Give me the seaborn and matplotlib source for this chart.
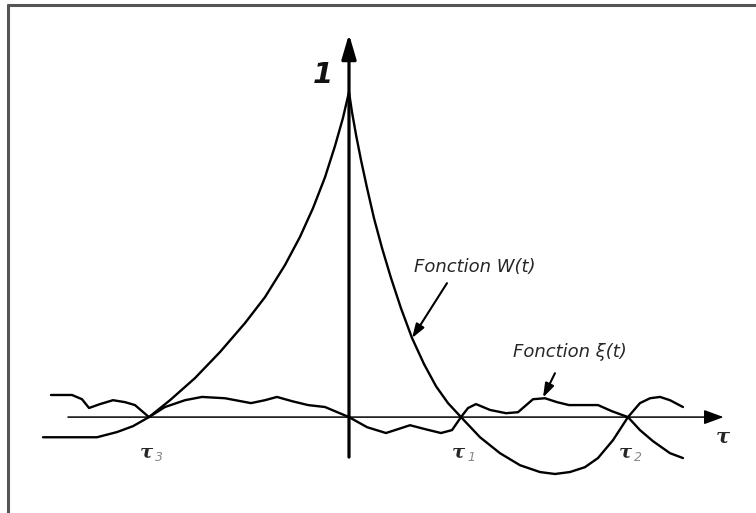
import matplotlib
matplotlib.use("Agg")
import matplotlib.pyplot as plt
import pandas as pd
import seaborn as sns

# Autocorrelation W(t) of the signal (normalised so W(0) = 1)
w_tau = [-2.732, -2.491, -2.250, -2.071, -1.929, -1.786, -1.598, -1.375, -1.152,
         -0.929, -0.750, -0.571, -0.438, -0.321, -0.214, -0.125, -0.054, 0.0,
         0.027, 0.063, 0.107, 0.161, 0.223, 0.295, 0.375, 0.464, 0.563, 0.670,
         0.777, 0.884, 1.0,
         1.170, 1.348, 1.527, 1.705, 1.839, 1.973, 2.107, 2.223, 2.357, 2.491,
         2.598, 2.688, 2.777, 2.866, 2.982]
w_val = [-0.062, -0.062, -0.062, -0.046, -0.028, 0.0, 0.052, 0.120, 0.200,
         0.289, 0.369, 0.468, 0.554, 0.643, 0.738, 0.834, 0.920, 1.0,
         0.938, 0.868, 0.791, 0.705, 0.612, 0.520, 0.428, 0.335, 0.243, 0.163,
         0.095, 0.043, 0.0,
         -0.062, -0.111, -0.148, -0.169, -0.175, -0.169, -0.154, -0.126, -0.071, 0.0,
         0.043, 0.058, 0.062, 0.052, 0.031]

# Noise function xi(t), crossing zero at the same points
xi_tau = [-2.661, -2.473, -2.384, -2.321, -2.223, -2.107, -2.000, -1.911, -1.786,
          -1.643, -1.464, -1.313, -1.107, -0.875, -0.750, -0.643, -0.509, -0.366,
          -0.214, 0.0, 0.161, 0.330, 0.438, 0.545, 0.679, 0.821, 0.920, 1.0,
          1.063, 1.134, 1.259, 1.402, 1.509, 1.643, 1.750, 1.857, 1.964, 2.223,
          2.348, 2.491, 2.598, 2.714, 2.866, 2.982]
xi_val = [0.068, 0.068, 0.055, 0.028, 0.040, 0.052, 0.046, 0.037, 0.0,
          0.031, 0.052, 0.062, 0.058, 0.043, 0.052, 0.062, 0.049, 0.037,
          0.031, 0.0, -0.031, -0.049, -0.037, -0.025, -0.037, -0.049, -0.040, 0.0,
          0.028, 0.040, 0.022, 0.012, 0.015, 0.055, 0.058, 0.046, 0.037, 0.037,
          0.018, 0.0, -0.040, -0.074, -0.111, -0.126]

# Zero crossings and their labels
cross_tau = [-1.786, 1.0, 2.491]
cross_sub = ["3", "1", "2"]

sns.set_theme(style="white")
plt.rcParams["font.family"] = ["DejaVu Sans"]

fig = plt.figure(figsize=(7.56, 5.13), dpi=100)
ax = fig.add_axes([0, 0, 1, 1])
ax.set_xlim(-3.116, 3.634)
ax.set_ylim(-0.295, 1.283)
ax.axis("off")

df_w = pd.DataFrame({"tau": w_tau, "val": w_val})
df_xi = pd.DataFrame({"tau": xi_tau, "val": xi_val})
sns.lineplot(data=df_w, x="tau", y="val", ax=ax, color="black", lw=1.7,
             sort=False, estimator=None)
sns.lineplot(data=df_xi, x="tau", y="val", ax=ax, color="black", lw=1.7,
             sort=False, estimator=None)

# Coordinate axes with arrow heads
ax.annotate("", xy=(3.345, 0), xytext=(-2.509, 0),
            arrowprops=dict(arrowstyle="-|>,head_length=0.6,head_width=0.22",
                            lw=1.1, color="black", mutation_scale=20,
                            shrinkA=0, shrinkB=0))
ax.annotate("", xy=(0, 1.178), xytext=(0, -0.123),
            arrowprops=dict(arrowstyle="-|>,head_length=0.75,head_width=0.22",
                            lw=2.3, color="black", mutation_scale=20,
                            shrinkA=0, shrinkB=0))

ax.text(-0.232, 1.052, "1", fontsize=21, fontweight="bold", fontstyle="italic",
        ha="center", va="center", color="#111111")
ax.text(3.335, -0.06, "τ", fontsize=15, fontfamily="DejaVu Serif",
        fontstyle="italic", fontweight="bold", ha="center", va="center")

for t, s in zip(cross_tau, cross_sub):
    ax.text(t - 0.02, -0.108, "τ", fontsize=14, fontfamily="DejaVu Serif",
            fontstyle="italic", fontweight="bold", ha="center", va="center")
    ax.annotate(s, xy=(t - 0.02, -0.108), xytext=(6, -4), textcoords="offset points",
                fontsize=9, fontstyle="italic", color="#888888",
                ha="left", va="center")

# Curve labels with pointer arrows
ax.text(0.580, 0.462, "Fonction W(t)", fontsize=13, fontstyle="italic",
        ha="left", va="center")
ax.annotate("", xy=(0.563, 0.243), xytext=(0.875, 0.412),
            arrowprops=dict(arrowstyle="-|>,head_length=0.6,head_width=0.2",
                            lw=1.5, color="black", mutation_scale=14,
                            shrinkA=0, shrinkB=0))
ax.text(1.464, 0.200, "Fonction ξ(t)", fontsize=13, fontstyle="italic",
        ha="left", va="center")
ax.annotate("", xy=(1.732, 0.060), xytext=(1.839, 0.135),
            arrowprops=dict(arrowstyle="-|>,head_length=0.6,head_width=0.2",
                            lw=1.5, color="black", mutation_scale=14,
                            shrinkA=0, shrinkB=0))

# Frame along the top and left edges
fig.add_artist(plt.Line2D([8 / 756, 8 / 756], [0, 1 - 4.5 / 513],
                          transform=fig.transFigure, color="#555555", lw=2.2))
fig.add_artist(plt.Line2D([8 / 756, 1], [1 - 4.5 / 513, 1 - 4.5 / 513],
                          transform=fig.transFigure, color="#555555", lw=2.2))

fig.savefig("out.png", dpi=100, facecolor="white")
